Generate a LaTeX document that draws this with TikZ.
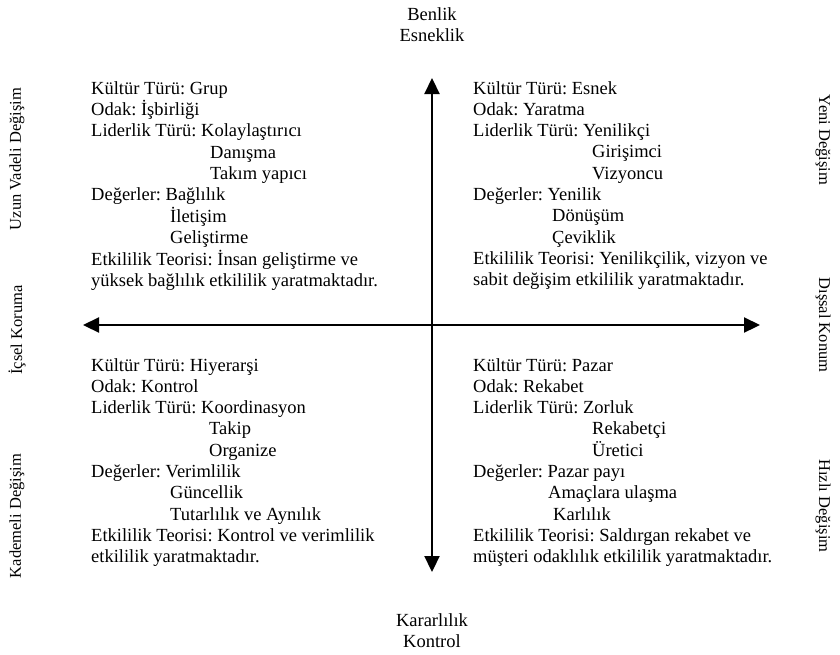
\documentclass[tikz,border=0pt]{standalone}
\usepackage{fontspec}
\setmainfont{Liberation Serif}
\usetikzlibrary{arrows.meta}
\tikzset{
  quad/.style={
    anchor=base west,
    inner sep=0pt,
    font=\fontsize{18.5}{21.3}\selectfont\frenchspacing
  },
  pole/.style={
    anchor=base,
    inner sep=0pt,
    font=\fontsize{18.5}{21}\selectfont
  },
  side/.style={
    inner sep=0pt,
    font=\fontsize{16.5}{20}\selectfont
  },
  axis/.style={
    draw=black,
    line width=2.2pt,
    {Triangle[length=16pt,width=15pt]}-{Triangle[length=16pt,width=15pt]}
  }
}
\newcommand{\ind}[1]{\hspace*{#1pt}}

\begin{document}
\begin{tikzpicture}[x=1pt,y=-1pt]
\useasboundingbox (0,0) rectangle (840,654);

% axis ends
\coordinate (top) at (432,78);
\coordinate (bot) at (432,572);
\coordinate (lft) at (83,325);
\coordinate (rgt) at (760,325);

% poles
\node[pole] (benlik) at (432,20)
{\begin{tabular}[t]{@{}c@{}}Benlik\\Esneklik\end{tabular}};
\node[pole] (kararlilik) at (432,626)
{\begin{tabular}[t]{@{}c@{}}Kararlılık\\Kontrol\end{tabular}};

\node[side, rotate=90] (uzun) at (17,159) {Uzun Vadeli Değişim};
\node[side, rotate=90] (icsel) at (17,330) {İçsel Koruma};
\node[side, rotate=90] (kademeli) at (17,516) {Kademeli Değişim};
\node[side, rotate=-90] (yeni) at (823,140) {Yeni Değişim};
\node[side, rotate=-90] (dissal) at (823,325) {Dışsal Konum};
\node[side, rotate=-90] (hizli) at (823,506) {Hızlı Değişim};

% quadrants
\node[quad] (grup) at (91,94)
{\begin{tabular}[t]{@{}l@{}}
  Kültür Türü: Grup\\
  Odak: İşbirliği\\
  Liderlik Türü: Kolaylaştırıcı\\
  \ind{119}Danışma\\
  \ind{119}Takım yapıcı\\
  Değerler: Bağlılık\\
  \ind{79}İletişim\\
  \ind{79}Geliştirme\\
  Etkililik Teorisi: İnsan geliştirme ve\\
  yüksek bağlılık etkililik yaratmaktadır.
\end{tabular}};

\node[quad] (esnek) at (473,94)
{\begin{tabular}[t]{@{}l@{}}
  Kültür Türü: Esnek\\
  Odak: Yaratma\\
  Liderlik Türü: Yenilikçi\\
  \ind{119}Girişimci\\
  \ind{119}Vizyoncu\\
  Değerler: Yenilik\\
  \ind{79}Dönüşüm\\
  \ind{79}Çeviklik\\
  Etkililik Teorisi: Yenilikçilik, vizyon ve\\
  sabit değişim etkililik yaratmaktadır.
\end{tabular}};

\node[quad] (hiyerarsi) at (91,371)
{\begin{tabular}[t]{@{}l@{}}
  Kültür Türü: Hiyerarşi\\
  Odak: Kontrol\\
  Liderlik Türü: Koordinasyon\\
  \ind{118}Takip\\
  \ind{118}Organize\\
  Değerler: Verimlilik\\
  \ind{79}Güncellik\\
  \ind{79}Tutarlılık ve Aynılık\\
  Etkililik Teorisi: Kontrol ve verimlilik\\
  etkililik yaratmaktadır.
\end{tabular}};

\node[quad] (pazar) at (473,371)
{\begin{tabular}[t]{@{}l@{}}
  Kültür Türü: Pazar\\
  Odak: Rekabet\\
  Liderlik Türü: Zorluk\\
  \ind{119}Rekabetçi\\
  \ind{119}Üretici\\
  Değerler: Pazar payı\\
  \ind{75}Amaçlara ulaşma\\
  \ind{80}Karlılık\\
  Etkililik Teorisi: Saldırgan rekabet ve\\
  müşteri odaklılık etkililik yaratmaktadır.
\end{tabular}};

% axes
\draw[axis] (bot) -- (top);
\draw[axis] (lft) -- (rgt);

\end{tikzpicture}
\end{document}
